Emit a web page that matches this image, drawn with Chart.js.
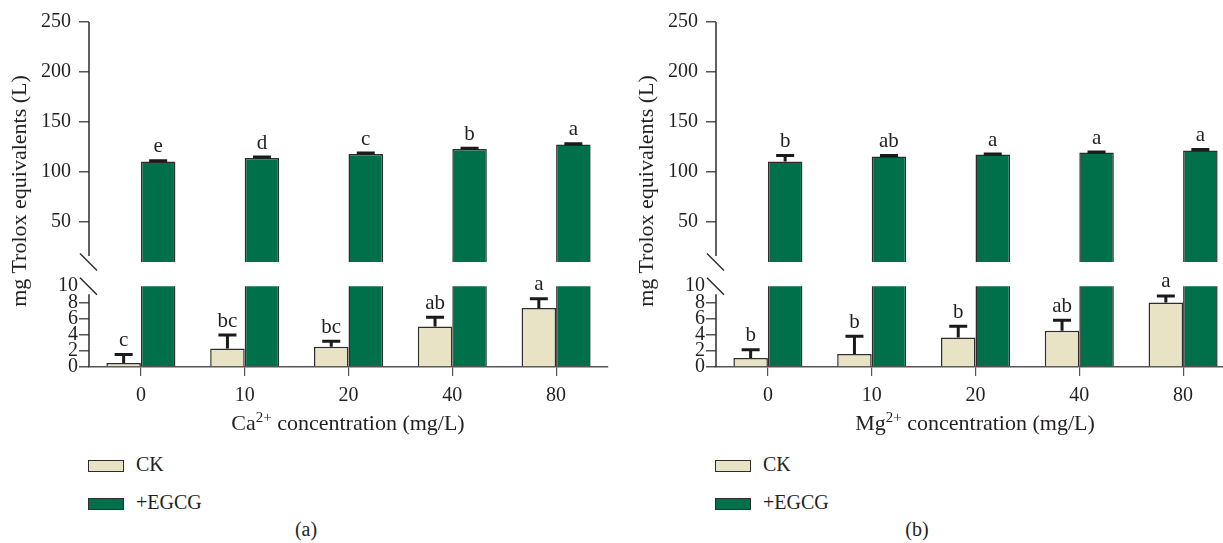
<!DOCTYPE html>
<html lang="en">
<head>
  <meta charset="UTF-8">
  <title>Trolox equivalents with Ca2+ / Mg2+ and EGCG</title>
  <script src="https://cdn.jsdelivr.net/npm/chart.js"></script>
  <style>
    html,
    body {
      margin: 0;
      padding: 0;
      background: #fff;
      overflow: hidden;
    }

    body {
      position: relative;
      width: 1223px;
      height: 543px;
      font-family: "Liberation Serif", "Times New Roman", serif;
      color: #231f20;
    }

    .panel {
      position: absolute;
      top: 0;
      width: 627px;
      height: 543px;
    }

    .panel canvas {
      position: absolute;
      left: 0;
      top: 0;
    }

    .ytitle {
      position: absolute;
      left: -131px;
      top: 179px;
      width: 300px;
      line-height: 24px;
      font-size: 22px;
      text-align: center;
      transform: rotate(-90deg);
      white-space: nowrap;
    }

    .xtitle {
      position: absolute;
      left: 148px;
      top: 410px;
      width: 400px;
      line-height: 26px;
      font-size: 22px;
      text-align: center;
      white-space: nowrap;
    }

    .xtitle sup {
      font-size: 0.68em;
      vertical-align: 0.55em;
      line-height: 0;
    }

    .legend {
      position: absolute;
      left: 88px;
      top: 451px;
      font-size: 20px;
    }

    .legend div {
      height: 38px;
      line-height: 26px;
      white-space: nowrap;
    }

    .legend span.box {
      display: inline-block;
      width: 34px;
      height: 10px;
      border: 1.5px solid #2d2d2d;
      margin-right: 12px;
      vertical-align: -1px;
    }

    .caption {
      position: absolute;
      top: 516px;
      width: 100px;
      line-height: 26px;
      font-size: 20px;
      text-align: center;
    }
  </style>
</head>

<body>
  <div class="panel" style="left:0">
    <canvas id="chartCa" width="627" height="410"></canvas>
    <div class="ytitle">mg Trolox equivalents (L)</div>
    <div class="xtitle">Ca<sup>2+</sup> concentration (mg/L)</div>
    <div class="legend">
      <div><span class="box" style="background:#e9e3c5"></span>CK</div>
      <div><span class="box" style="background:#00704a"></span>+EGCG</div>
    </div>
  </div>
  <div class="panel" style="left:627px">
    <canvas id="chartMg" width="627" height="410"></canvas>
    <div class="ytitle">mg Trolox equivalents (L)</div>
    <div class="xtitle">Mg<sup>2+</sup> concentration (mg/L)</div>
    <div class="legend">
      <div><span class="box" style="background:#e9e3c5"></span>CK</div>
      <div><span class="box" style="background:#00704a"></span>+EGCG</div>
    </div>
  </div>
  <div class="caption" style="left:256px">(a)</div>
  <div class="caption" style="left:867px">(b)</div>

  <script>
    // concentrations (mg/L)
    const categories = ['0', '10', '20', '40', '80'];

    // panel (a) Ca2+
    const caCK = [0.5, 2.3, 2.5, 5.0, 7.3];
    const caCKErr = [1.05, 1.65, 0.7, 1.15, 1.15];
    const caCKLetters = ['c', 'bc', 'bc', 'ab', 'a'];
    const caEGCG = [110.5, 114, 118, 123, 127.5];
    const caEGCGErr = [0.8, 1, 1, 0.8, 0.8];
    const caEGCGLetters = ['e', 'd', 'c', 'b', 'a'];

    // panel (b) Mg2+
    const mgCK = [1.1, 1.6, 3.65, 4.5, 8.0];
    const mgCKErr = [1.05, 2.2, 1.4, 1.3, 0.8];
    const mgCKLetters = ['b', 'b', 'b', 'ab', 'a'];
    const mgEGCG = [110.5, 115.5, 117.5, 119.5, 121.5];
    const mgEGCGErr = [6, 1, 0.4, 0.4, 1];
    const mgEGCGLetters = ['b', 'ab', 'a', 'a', 'a'];

    // broken y axis
    const upperTicks = [50, 100, 150, 200, 250];
    const lowerTicks = [0, 2, 4, 6, 8, 10];
    const breakAt = 10;
    const upperMax = 250;
    const lowerMax = 13; // room above the break for the gap

    const ckColor = '#e9e3c5';
    const egcgColor = '#00704a';
    const lineColor = '#2d2d2d';
    const textColor = '#231f20';
    const serif = '"Liberation Serif", "Times New Roman", serif';

    Chart.defaults.font.family = serif;
    Chart.defaults.color = textColor;

    // clip every dataset to its own segment of the broken axis
    const clipToSegment = {
      id: 'clipToSegment',
      beforeDatasetDraw(chart, args) {
        const ys = chart.scales[args.meta.yAxisID];
        const area = chart.chartArea;
        const top = ys.id === 'yBot' ? ys.getPixelForValue(breakAt) : ys.top;
        chart.ctx.save();
        chart.ctx.beginPath();
        chart.ctx.rect(area.left - 2, top, area.right - area.left + 4, ys.bottom - top);
        chart.ctx.clip();
      },
      afterDatasetDraw(chart) {
        chart.ctx.restore();
      }
    };

    // y axis lines and the // marks at the break
    const axisBreak = {
      id: 'axisBreak',
      afterDraw(chart) {
        const ctx = chart.ctx;
        const yTop = chart.scales.yTop;
        const yBot = chart.scales.yBot;
        const x = chart.chartArea.left;
        const yBreakTop = yTop.bottom;
        const yBreakBot = yBot.getPixelForValue(breakAt);
        ctx.save();
        ctx.strokeStyle = lineColor;
        ctx.lineWidth = 1.5;
        ctx.beginPath();
        ctx.moveTo(x, yTop.top);
        ctx.lineTo(x, yBreakTop - 6);
        ctx.moveTo(x, yBreakBot + 8);
        ctx.lineTo(x, yBot.bottom);
        [yBreakTop, yBreakBot].forEach(y => {
          ctx.moveTo(x - 9, y - 8.5);
          ctx.lineTo(x + 8, y + 8.5);
        });
        ctx.stroke();
        ctx.restore();
      }
    };

    // one-sided error bars plus significance letters
    const errorBars = {
      id: 'errorBars',
      afterDatasetsDraw(chart) {
        const ctx = chart.ctx;
        ctx.save();
        chart.data.datasets.forEach((ds, i) => {
          if (!ds.errors) return;
          const meta = chart.getDatasetMeta(i);
          const ys = chart.scales[meta.yAxisID];
          meta.data.forEach((bar, j) => {
            const yVal = ys.getPixelForValue(ds.data[j]);
            const yErr = ys.getPixelForValue(ds.data[j] + ds.errors[j]);
            ctx.strokeStyle = '#1a1a1a';
            ctx.lineWidth = 3;
            ctx.beginPath();
            ctx.moveTo(bar.x, yVal);
            ctx.lineTo(bar.x, yErr);
            ctx.moveTo(bar.x - 9, yErr);
            ctx.lineTo(bar.x + 9, yErr);
            ctx.stroke();
            if (ds.letters) {
              ctx.fillStyle = textColor;
              ctx.font = '21px ' + serif;
              ctx.textAlign = 'center';
              ctx.textBaseline = 'alphabetic';
              ctx.fillText(ds.letters[j], bar.x, yErr - 8.5);
            }
          });
        });
        ctx.restore();
      }
    };

    function makeChart(id, ck, ckErr, ckLetters, egcg, egcgErr, egcgLetters) {
      const ctx = document.getElementById(id).getContext('2d');
      return new Chart(ctx, {
        type: 'bar',
        data: {
          labels: categories,
          datasets: [{
            label: 'CK',
            data: ck,
            errors: ckErr,
            letters: ckLetters,
            yAxisID: 'yBot',
            stack: 'ck',
            backgroundColor: ckColor,
            borderColor: lineColor,
            borderWidth: 1.5
          }, {
            label: '+EGCG',
            data: egcg,
            errors: egcgErr,
            letters: egcgLetters,
            yAxisID: 'yTop',
            stack: 'egcg',
            backgroundColor: egcgColor,
            borderColor: lineColor,
            borderWidth: 1.5
          }, {
            label: '+EGCG (lower)',
            data: egcg,
            yAxisID: 'yBot',
            stack: 'egcg',
            backgroundColor: egcgColor,
            borderColor: lineColor,
            borderWidth: 1.5
          }]
        },
        options: {
          responsive: false,
          animation: false,
          barPercentage: 1,
          categoryPercentage: 0.665,
          layout: { padding: { top: 22, right: 19, left: 0, bottom: 0 } },
          plugins: {
            legend: { display: false },
            tooltip: { enabled: false }
          },
          scales: {
            x: {
              grid: {
                offset: false,
                drawOnChartArea: false,
                drawTicks: true,
                tickLength: 9,
                tickColor: '#555',
                lineWidth: 1.2
              },
              border: { display: true, color: '#555', width: 1.5 },
              ticks: { font: { size: 20 }, padding: 8, color: textColor, autoSkip: false, maxRotation: 0 },
              afterFit(scale) { scale.height = 43; }
            },
            yTop: {
              type: 'linear',
              position: 'left',
              stack: 'broken',
              stackWeight: upperMax - breakAt,
              weight: 1,
              stacked: false,
              min: breakAt,
              max: upperMax,
              grid: {
                drawOnChartArea: false,
                drawTicks: true,
                tickLength: 10,
                tickColor: '#555',
                lineWidth: 1.5
              },
              border: { display: false },
              ticks: { font: { size: 20 }, padding: 8, color: textColor, autoSkip: false },
              afterBuildTicks(scale) { scale.ticks = upperTicks.map(v => ({ value: v })); },
              afterFit(scale) { scale.width = 89; }
            },
            yBot: {
              type: 'linear',
              position: 'left',
              stack: 'broken',
              stackWeight: 105,
              weight: 0,
              stacked: false,
              min: 0,
              max: lowerMax,
              grid: {
                drawOnChartArea: false,
                drawTicks: true,
                tickLength: 10,
                tickColor: c => (c.tick && c.tick.value === breakAt) ? 'rgba(0,0,0,0)' : '#555',
                lineWidth: 1.5
              },
              border: { display: false },
              ticks: { font: { size: 20 }, padding: 1, color: textColor, autoSkip: false },
              afterBuildTicks(scale) { scale.ticks = lowerTicks.map(v => ({ value: v })); },
              afterFit(scale) { scale.width = 89; }
            }
          }
        },
        plugins: [clipToSegment, errorBars, axisBreak]
      });
    }

    makeChart('chartCa', caCK, caCKErr, caCKLetters, caEGCG, caEGCGErr, caEGCGLetters);
    makeChart('chartMg', mgCK, mgCKErr, mgCKLetters, mgEGCG, mgEGCGErr, mgEGCGLetters);
  </script>
</body>

</html>
